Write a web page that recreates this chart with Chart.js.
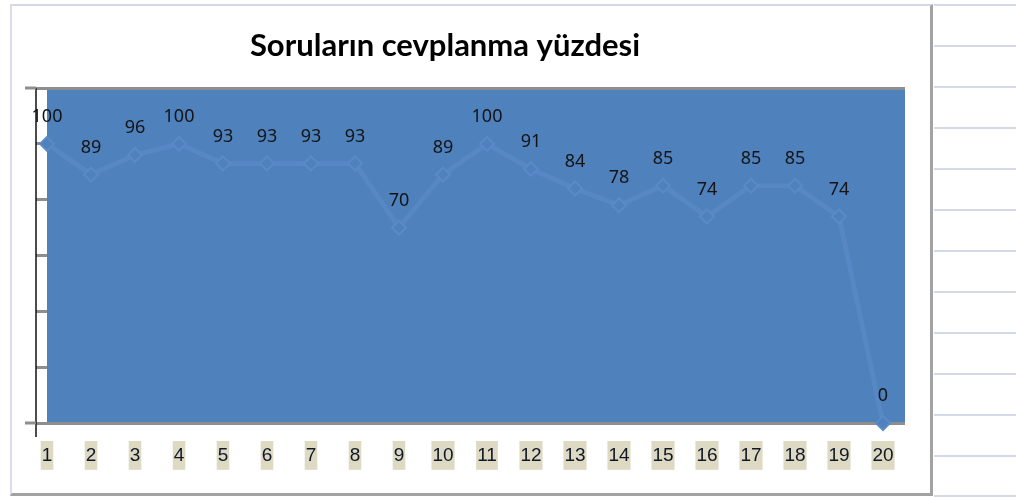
<!DOCTYPE html>
<html>
<head>
<meta charset="utf-8">
<script src="https://cdn.jsdelivr.net/npm/chart.js@4/dist/chart.umd.min.js"></script>
<style>
  html, body { margin: 0; padding: 0; background: #fff; }
  body { width: 1016px; height: 497px; position: relative; overflow: hidden; }
  .frame {
    position: absolute; left: 10px; top: 4px; width: 918px; height: 487px;
    border-left: 2px solid #dcdcec; border-top: 2px solid #d4d8e8;
    border-right: 3px solid #a2a2a2; border-bottom: 3px solid #a2a2a2;
    background: #fff;
  }
  .row { position: absolute; left: 934px; width: 82px; height: 2px; background: #d3d9e6; }
  canvas { position: absolute; left: 0; top: 0; }
</style>
</head>
<body>
<div class="frame"></div>
<div id="rows"></div>
<canvas id="chart" width="1016" height="497"></canvas>
<script>
// veriler
const titleText = 'Soruların cevplanma yüzdesi';
const categories = [1, 2, 3, 4, 5, 6, 7, 8, 9, 10, 11, 12, 13, 14, 15, 16, 17, 18, 19, 20];
const answeredPct = [100, 89, 96, 100, 93, 93, 93, 93, 70, 89, 100, 91, 84, 78, 85, 74, 85, 85, 74, 0];
const yTicks = [0, 20, 40, 60, 80, 100, 120];

// sağdaki tablo satır çizgileri
const rowTops = [4, 45, 86, 127, 168, 209, 250, 291, 332, 373, 414, 455, 495];
const rows = document.getElementById('rows');
rowTops.forEach(function (t) {
    const d = document.createElement('div');
    d.className = 'row';
    d.style.top = t + 'px';
    rows.appendChild(d);
});

const plotBlue = '#4f81bd';
const gridGrey = '#8e8e8e';

// arka plan, başlık ve değer etiketleri
const decorPlugin = {
    id: 'decor',
    beforeDraw(chart) {
        const a = chart.chartArea;
        const c = chart.ctx;
        c.save();
        c.fillStyle = plotBlue;
        c.fillRect(a.left, a.top, a.right - a.left, a.bottom - a.top);
        c.restore();
    },
    afterDraw(chart) {
        const a = chart.chartArea;
        const c = chart.ctx;
        const y = chart.scales.y;
        c.save();
        // eksen çizgisi
        c.strokeStyle = '#111';
        c.lineWidth = 1.5;
        c.beginPath();
        c.moveTo(a.left - 11, a.top);
        c.lineTo(a.left - 11, a.bottom + 14);
        c.stroke();
        // üst ve alt çizgilerin sol uzantısı
        c.strokeStyle = gridGrey;
        c.lineWidth = 3;
        [yTicks[0], yTicks[yTicks.length - 1]].forEach(function (v) {
            const py = y.getPixelForValue(v);
            c.beginPath();
            c.moveTo(a.left - 22, py);
            c.lineTo(a.left - 11, py);
            c.stroke();
        });
        // başlık
        c.fillStyle = '#000';
        c.font = 'bold 31px Lato';
        c.textAlign = 'center';
        c.textBaseline = 'middle';
        c.fillText(titleText, 445, 46);
        c.restore();
    },
    afterDatasetsDraw(chart) {
        const c = chart.ctx;
        const meta = chart.getDatasetMeta(0);
        c.save();
        c.fillStyle = '#141414';
        c.font = '18px "Noto Sans"';
        c.textAlign = 'center';
        c.textBaseline = 'middle';
        meta.data.forEach(function (pt, i) {
            c.fillText(String(answeredPct[i]), pt.x, pt.y - 27);
        });
        c.restore();
    }
};

const ctx = document.getElementById('chart').getContext('2d');
new Chart(ctx, {
    type: 'line',
    data: {
        datasets: [{
            data: categories.map(function (x, i) { return { x: x, y: answeredPct[i] }; }),
            borderColor: '#5787c4',
            borderWidth: 5,
            pointStyle: 'rectRot',
            pointRadius: 7,
            pointBackgroundColor: plotBlue,
            pointBorderColor: '#5a8bc8',
            pointBorderWidth: 2,
            fill: false,
            tension: 0,
            clip: false
        }]
    },
    options: {
        responsive: false,
        animation: false,
        layout: { padding: { top: 88, right: 111, left: 0, bottom: 0 } },
        plugins: { legend: { display: false }, tooltip: { enabled: false }, title: { display: false } },
        scales: {
            x: {
                type: 'linear',
                min: 1,
                max: 20.5,
                afterBuildTicks: function (scale) {
                    scale.ticks = categories.map(function (v) { return { value: v }; });
                },
                afterFit: function (scale) { scale.height = 74; },
                grid: { display: false },
                border: { display: false },
                ticks: {
                    autoSkip: false,
                    maxRotation: 0,
                    padding: 13,
                    color: '#101828',
                    font: { family: '"Liberation Sans", Arial, sans-serif', size: 19 },
                    showLabelBackdrop: true,
                    backdropColor: '#ddd9c3',
                    backdropPadding: { top: 3, bottom: 3, left: 1, right: 1 }
                }
            },
            y: {
                min: 0,
                max: 120,
                afterBuildTicks: function (scale) {
                    scale.ticks = yTicks.map(function (v) { return { value: v }; });
                },
                afterFit: function (scale) { scale.width = 47; },
                border: { display: false },
                grid: {
                    color: function (c) {
                        const v = c.tick ? c.tick.value : null;
                        return (v === yTicks[0] || v === yTicks[yTicks.length - 1]) ? gridGrey : 'rgba(0,0,0,0)';
                    },
                    lineWidth: 3,
                    tickColor: gridGrey,
                    tickWidth: 3,
                    tickLength: 11
                },
                ticks: { display: false }
            }
        }
    },
    plugins: [decorPlugin]
});
</script>
</body>
</html>
